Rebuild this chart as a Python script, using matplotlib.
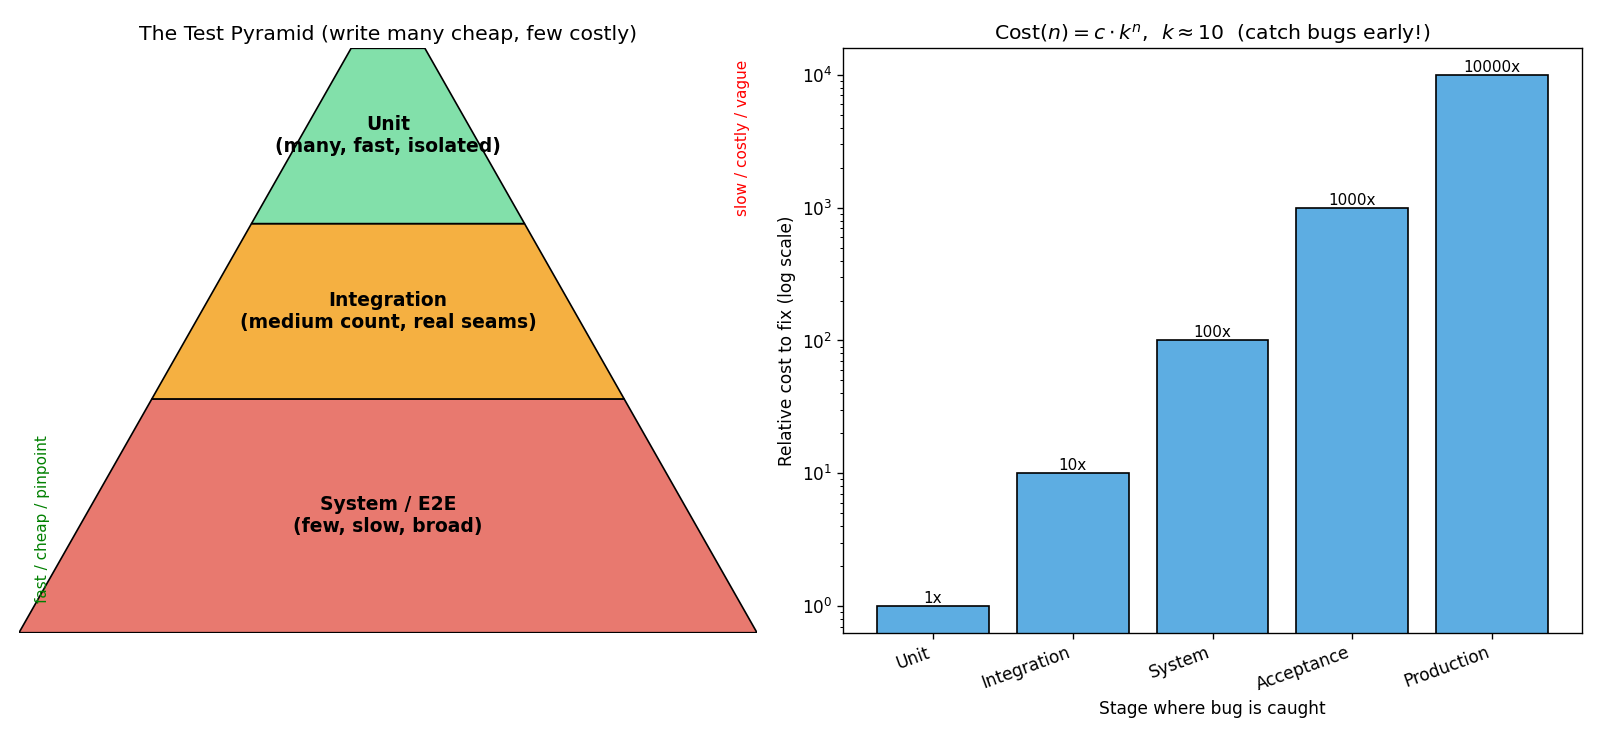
"""Test pyramid and cost-of-late-bugs figure."""

import matplotlib
matplotlib.use("Agg")
import matplotlib.pyplot as plt
from matplotlib.patches import Polygon

# pyramid layers, bottom to top
layer_bounds = [(0.0, 0.4), (0.4, 0.7), (0.7, 1.0)]
layer_labels = [
    "System / E2E\n(few, slow, broad)",
    "Integration\n(medium count, real seams)",
    "Unit\n(many, fast, isolated)",
]
layer_colors = ["#E8796F", "#F5B041", "#82E0AA"]

stages = ["Unit", "Integration", "System", "Acceptance", "Production"]
relative_cost = [1, 10, 100, 1000, 10000]
cost_labels = ["1x", "10x", "100x", "1000x", "10000x"]

W, H = 1600, 738
S = 1.225  # font scale relative to default point sizes
fig = plt.figure(figsize=(16, 7.38), dpi=100)

# --- left: the pyramid ---
ax = fig.add_axes([19 / W, 105.3 / H, 738 / W, 584.4 / H])


def half_width(y):
    return 1 - 0.9 * y


for (lo, hi), label, color in zip(layer_bounds, layer_labels, layer_colors):
    corners = [(-half_width(lo), lo), (half_width(lo), lo),
               (half_width(hi), hi), (-half_width(hi), hi)]
    ax.add_patch(Polygon(corners, closed=True, facecolor=color,
                         edgecolor="black", linewidth=1.2))
    ax.text(0, (lo + hi) / 2, label, ha="center", va="center",
            fontsize=11 * S, fontweight="bold")

ax.set_xlim(-1, 1)
ax.set_ylim(0, 1)
ax.axis("off")
ax.set_title("The Test Pyramid (write many cheap, few costly)", fontsize=12 * S)
ax.text(0.032, 0.05, "fast / cheap / pinpoint", transform=ax.transAxes,
        rotation=90, ha="center", va="bottom", color="green", fontsize=9 * S)
ax.text(0.98, 0.98, "slow / costly / vague", transform=ax.transAxes,
        rotation=90, ha="center", va="top", color="red", fontsize=9 * S)

# --- right: cost to fix ---
bx = fig.add_axes([843.3 / W, 105.3 / H, 738.4 / W, 584.4 / H])
bars = bx.bar(stages, relative_cost, color="#5DADE2", edgecolor="black",
              linewidth=1.2)
bx.set_yscale("log")
bx.set_ylim(10 ** -0.2, 10 ** 4.2)
for bar, text in zip(bars, cost_labels):
    bx.text(bar.get_x() + bar.get_width() / 2, bar.get_height(), text,
            ha="center", va="bottom", fontsize=9 * S)
bx.set_title(r"Cost$(n) = c \cdot k^{n}$,  $k \approx 10$  (catch bugs early!)",
             fontsize=12 * S)
bx.set_ylabel("Relative cost to fix (log scale)", fontsize=10 * S)
bx.set_xlabel("Stage where bug is caught", fontsize=10 * S)
bx.tick_params(labelsize=10 * S, length=3.5 * S, width=0.8 * S)
bx.tick_params(which="minor", length=2 * S, width=0.6 * S)
for spine in bx.spines.values():
    spine.set_linewidth(0.8 * S)
plt.setp(bx.get_xticklabels(), rotation=20, ha="right")

fig.savefig("out.png", dpi=100)
